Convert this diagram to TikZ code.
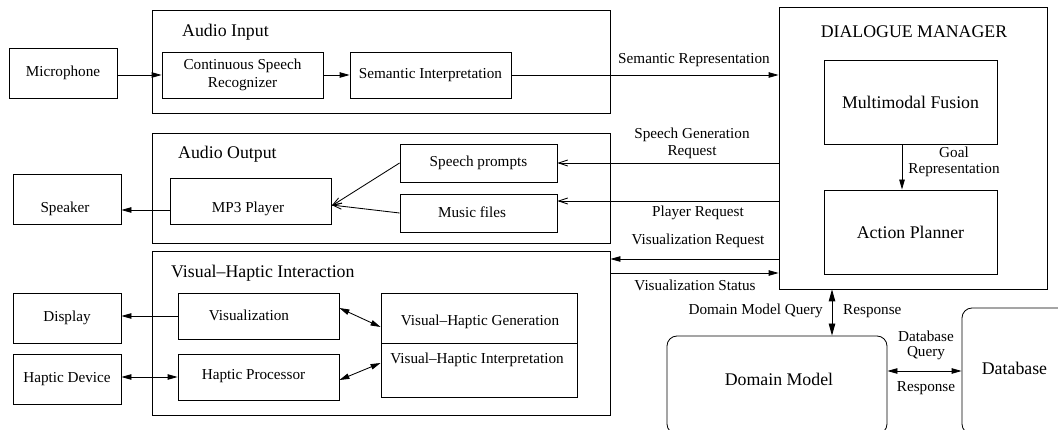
\documentclass[tikz,border=0pt]{standalone}
\usepackage{fontspec}
\setmainfont{Liberation Serif}
\usetikzlibrary{arrows.meta}
\begin{document}
\begin{tikzpicture}[x=1pt,y=-1pt,
  box/.style={draw, line width=0.85pt, inner sep=0pt},
  rbox/.style={box, rounded corners=10pt},
  sm/.style={font=\fontsize{15.2}{17.5}\selectfont, inner sep=0pt, align=center},
  bg/.style={font=\fontsize{17.8}{20}\selectfont, inner sep=0pt},
  fa/.style={line width=0.85pt, -{Triangle[length=10pt,width=5.5pt]}},
  oa/.style={line width=0.85pt, -{Straight Barb[length=9pt,width=6pt]}},
  da/.style={line width=0.85pt, {Triangle[length=10pt,width=5.5pt]}-{Triangle[length=10pt,width=5.5pt]}},
  dab/.style={line width=0.85pt, {Triangle[length=12pt,width=6.5pt]}-{Triangle[length=12pt,width=6.5pt]}},
]
\useasboundingbox (0,0) rectangle (1058,430);
\clip (0,0) rectangle (1058,430);

% containers
\node[box, minimum width=458pt, minimum height=103pt] (ain) at (381,61.5) {};
\node[box, minimum width=458pt, minimum height=110pt] (aout) at (381,188) {};
\node[box, minimum width=458pt, minimum height=164pt] (vhint) at (381,333) {};
\node[box, minimum width=268pt, minimum height=282pt] (dm) at (913,148) {};

\node[bg, anchor=base west] (ain-t) at (182,37) {Audio Input};
\node[bg, anchor=base west] (aout-t) at (178,159) {Audio Output};
\node[bg, anchor=base west] (vhint-t) at (171,277.5) {Visual–Haptic Interaction};
\node[bg, anchor=base] (dm-t) at (914,37.3) {DIALOGUE MANAGER};

% audio input
\node[box, sm, minimum width=108pt, minimum height=50pt] (mic) at (63,73) {Microphone};
\node[box, sm, minimum width=161pt, minimum height=46pt] (csr) at (242.5,75) {Continuous Speech\\Recognizer};
\node[box, sm, minimum width=161pt, minimum height=46pt] (si) at (430.5,75) {Semantic Interpretation};

% dialogue manager
\node[box, bg, minimum width=173pt, minimum height=84pt] (mf) at (910.5,102) {Multimodal Fusion};
\node[box, bg, minimum width=173pt, minimum height=84pt] (ap) at (910.5,232) {Action Planner};

% audio output
\node[box, minimum width=108pt, minimum height=50pt] (spk) at (67,199) {};
\node[sm] (spk-t) at (65,209) {Speaker};
\node[box, minimum width=161pt, minimum height=46pt] (mp3) at (250.5,201) {};
\node[sm] (mp3-t) at (248,209) {MP3 Player};
\node[box, sm, minimum width=157pt, minimum height=38pt] (sp) at (478.5,163) {Speech prompts};
\node[box, minimum width=157pt, minimum height=38pt] (mus) at (478.5,213) {};
\node[sm] (mus-t) at (472,212) {Music files};

% visual-haptic
\node[box, sm, minimum width=108pt, minimum height=50pt] (disp) at (67,318) {Display};
\node[box, sm, minimum width=108pt, minimum height=50pt] (hdev) at (67,379) {Haptic Device};
\node[box, minimum width=161pt, minimum height=46pt] (vis) at (258.5,316) {};
\node[sm] (vis-t) at (249,315) {Visualization};
\node[box, minimum width=161pt, minimum height=46pt] (hp) at (258.5,377) {};
\node[sm] (hp-t) at (253.5,376) {Haptic Processor};
\node[box, minimum width=196pt, minimum height=50pt] (vhg) at (479,318) {};
\node[sm] (vhg-t) at (480,322) {Visual–Haptic Generation};
\node[box, minimum width=196pt, minimum height=54pt] (vhi) at (479,370) {};
\node[sm] (vhi-t) at (477,360) {Visual–Haptic Interpretation};

% domain model / database
\node[rbox, minimum width=220pt, minimum height=98pt] (dom) at (777,385) {};
\node[bg] (dom-t) at (779,379) {Domain Model};
\node[rbox, minimum width=113pt, minimum height=126pt] (db) at (1018.5,371) {};
\node[bg] (db-t) at (1014.5,368) {Database};

% connectors
\draw[fa] (mic.east |- csr.west) -- (csr.west);
\draw[fa] (csr) -- (si);
\draw[fa] (si.east) -- (si.east -| dm.west);
\node[sm] (semrep) at (694,60) {Semantic Representation};

\draw[fa] ([xshift=-8.5pt]mf.south) -- ([xshift=-8.5pt]ap.north);
\node[sm, font=\fontsize{15.2}{16}\selectfont] (goal) at (954,162) {Goal\\Representation};

\draw[oa] (dm.west |- sp.east) -- (sp.east);
\node[sm, font=\fontsize{15.2}{16.5}\selectfont] (sgr) at (692,143.5) {Speech Generation\\Request};
\coordinate (pr) at ([yshift=12pt]mus.east);
\draw[oa] (dm.west |- pr) -- (pr);
\node[sm] (plr) at (698,213) {Player Request};

\draw[oa] (sp.west) -- ([yshift=-5pt]mp3.east);
\draw[oa] (mus.west) -- ([yshift=-4pt]mp3.east);
\coordinate (ms) at ([yshift=-9pt]mp3.west);
\draw[fa] (ms) -- (spk.east |- ms);

\coordinate (vr) at ([yshift=74pt]vhint.east);
\draw[fa] (dm.west |- vr) -- (vr);
\node[sm] (visreq) at (698,241) {Visualization Request};
\coordinate (vs) at ([yshift=60pt]vhint.east);
\draw[fa] (vs) -- (dm.west |- vs);
\node[sm] (visst) at (695,285) {Visualization Status};

\draw[fa] (vis.west) -- (vis.west -| disp.east);
\draw[da] (hdev.east |- hp.west) -- (hp.west);
\draw[da] ([yshift=8pt]vis.east) -- ([yshift=-9pt]vhg.west);
\draw[da] ([yshift=-3pt]hp.east) -- ([yshift=7pt]vhi.west);

\coordinate (qx) at (832,0);
\draw[dab] (dm.south -| qx) -- (dom.north -| qx);
\node[sm, anchor=east] (dmq) at (823,311) {Domain Model Query};
\node[sm, anchor=west] (resp1) at (843,311) {Response};

\draw[da] (dom.east |- db.west) -- (db.west);
\node[sm, font=\fontsize{15.2}{15.5}\selectfont] (dbq) at (926,345.5) {Database\\Query};
\node[sm] (resp2) at (926,388) {Response};
\end{tikzpicture}
\end{document}
